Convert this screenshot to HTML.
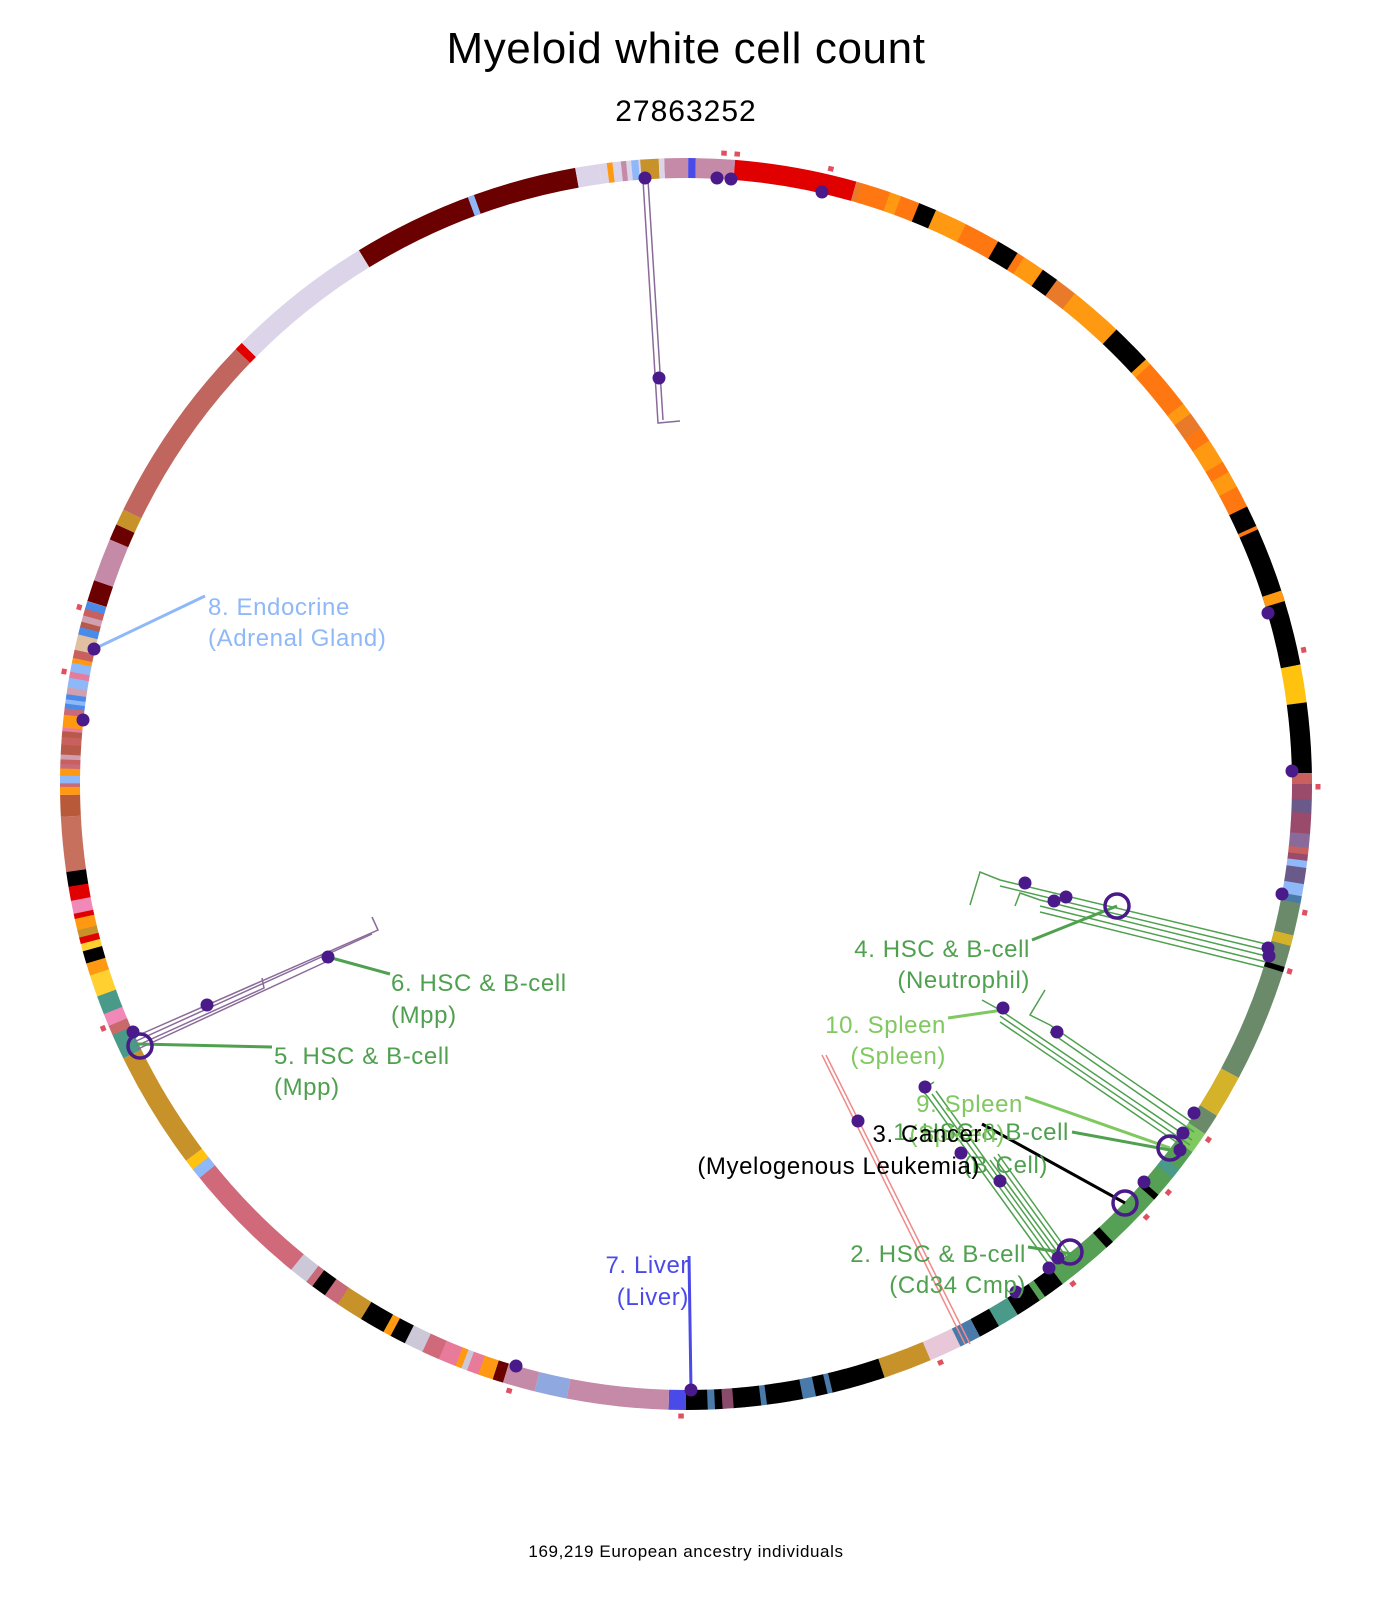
<!DOCTYPE html>
<html><head><meta charset="utf-8"><style>
html,body{margin:0;padding:0;background:#fff;width:1400px;height:1600px;overflow:hidden}
svg{display:block}
text{font-family:"Liberation Sans",sans-serif}
</style></head><body>
<svg id="s" width="1400" height="1600" viewBox="0 0 1400 1600" xmlns="http://www.w3.org/2000/svg">
<text x="686" y="63" font-size="44" letter-spacing="0.6" text-anchor="middle">Myeloid white cell count</text>
<text x="686" y="121" font-size="30" letter-spacing="1" text-anchor="middle">27863252</text>
<text x="686" y="1557" font-size="17" letter-spacing="0.6" text-anchor="middle">169,219 European ancestry individuals</text>
<g id="ring"></g>
<g id="lines" fill="none">
<polyline points="643,180 658,423 680,421" stroke="#8a6a9a" stroke-width="1.5"/>
<polyline points="648,180 663,420" stroke="#8a6a9a" stroke-width="1.5"/>
<polyline points="132,1038 378,930 372,917" stroke="#8a6a9a" stroke-width="1.5"/>
<polyline points="134,1042 372,934" stroke="#8a6a9a" stroke-width="1.5"/>
<polyline points="136,1046 264,988 262,978" stroke="#8a6a9a" stroke-width="1.5"/>
<polyline points="138,1049 330,960" stroke="#8a6a9a" stroke-width="1.5"/>
<polyline points="1266,944 1000,880 980,872 970,905" stroke="#4fa04f" stroke-width="1.5"/>
<polyline points="1266,950 1000,886" stroke="#4fa04f" stroke-width="1.5"/>
<polyline points="1266,956 1040,900 1020,893 1015,906" stroke="#4fa04f" stroke-width="1.5"/>
<polyline points="1266,962 1040,906" stroke="#4fa04f" stroke-width="1.5"/>
<polyline points="1266,968 1040,912" stroke="#4fa04f" stroke-width="1.5"/>
<polyline points="1192,1140 1000,1010 982,1000" stroke="#4fa04f" stroke-width="1.5"/>
<polyline points="1190,1145 1000,1016" stroke="#4fa04f" stroke-width="1.5"/>
<polyline points="1188,1150 1000,1022" stroke="#4fa04f" stroke-width="1.5"/>
<polyline points="1196,1125 1050,1025 1030,1015 1045,990" stroke="#4fa04f" stroke-width="1.5"/>
<polyline points="1194,1132 1050,1032" stroke="#4fa04f" stroke-width="1.5"/>
<polyline points="1053,1270 928,1097 922,1090 934,1082" stroke="#4fa04f" stroke-width="1.5"/>
<polyline points="1058,1268 932,1094" stroke="#4fa04f" stroke-width="1.5"/>
<polyline points="1062,1266 936,1091" stroke="#4fa04f" stroke-width="1.5"/>
<polyline points="1066,1264 990,1160" stroke="#4fa04f" stroke-width="1.5"/>
<polyline points="1070,1262 994,1157" stroke="#4fa04f" stroke-width="1.5"/>
<polyline points="1074,1260 998,1154" stroke="#4fa04f" stroke-width="1.5"/>
<polyline points="822,1055 965,1344" stroke="#f08a8a" stroke-width="1.5"/>
<polyline points="826,1055 970,1344" stroke="#f08a8a" stroke-width="1.5"/>
<line x1="689" y1="1256" x2="691" y2="1390" stroke="#4a4ae8" stroke-width="3"/>
<line x1="94" y1="649" x2="205" y2="596" stroke="#8fb8f8" stroke-width="3"/>
<line x1="1032" y1="940" x2="1117" y2="906" stroke="#4fa04f" stroke-width="3"/>
<line x1="948" y1="1018" x2="1003" y2="1010" stroke="#80c860" stroke-width="3"/>
<line x1="1025" y1="1097" x2="1170" y2="1148" stroke="#80c860" stroke-width="3"/>
<line x1="1072" y1="1132" x2="1170" y2="1150" stroke="#4fa04f" stroke-width="3"/>
<line x1="982" y1="1124" x2="1125" y2="1203" stroke="#000" stroke-width="3"/>
<line x1="1028" y1="1247" x2="1072" y2="1254" stroke="#4fa04f" stroke-width="3"/>
<line x1="390" y1="974" x2="328" y2="957" stroke="#4fa04f" stroke-width="3"/>
<line x1="272" y1="1047" x2="138" y2="1044" stroke="#4fa04f" stroke-width="3"/>
</g>
<g id="dots" fill="#4a1a8a"></g>
<g fill="none" stroke="#4a1a8a" stroke-width="3.5">
<circle cx="1117" cy="906" r="12"/><circle cx="1170" cy="1148" r="12"/><circle cx="1125" cy="1203" r="12"/><circle cx="1070" cy="1252" r="12"/><circle cx="140" cy="1046" r="12"/>
</g>
<g font-size="24" letter-spacing="0.6">
<text x="1030" y="957" text-anchor="end" fill="#4fa04f">4. HSC &amp; B-cell</text>
<text x="1030" y="988" text-anchor="end" fill="#4fa04f">(Neutrophil)</text>
<text x="946" y="1033" text-anchor="end" fill="#80c860">10. Spleen</text>
<text x="946" y="1064" text-anchor="end" fill="#80c860">(Spleen)</text>
<text x="1069" y="1140" text-anchor="end" fill="#4fa04f">1. HSC &amp; B-cell</text>
<text x="1048" y="1173" text-anchor="end" fill="#4fa04f">(B Cell)</text>
<text x="1023" y="1112" text-anchor="end" fill="#80c860">9. Spleen</text>
<text x="1005" y="1142" text-anchor="end" fill="#80c860">(Spleen)</text>
<text x="982" y="1142" text-anchor="end" fill="#000">3. Cancer</text>
<text x="980" y="1174" text-anchor="end" fill="#000">(Myelogenous Leukemia)</text>
<text x="1026" y="1262" text-anchor="end" fill="#4fa04f">2. HSC &amp; B-cell</text>
<text x="1026" y="1293" text-anchor="end" fill="#4fa04f">(Cd34 Cmp)</text>
<text x="689" y="1273" text-anchor="end" fill="#4a4ae8">7. Liver</text>
<text x="689" y="1305" text-anchor="end" fill="#4a4ae8">(Liver)</text>
<text x="208" y="615" fill="#8fb8f8">8. Endocrine</text>
<text x="208" y="646" fill="#8fb8f8">(Adrenal Gland)</text>
<text x="391" y="991" fill="#4fa04f">6. HSC &amp; B-cell</text>
<text x="391" y="1023" fill="#4fa04f">(Mpp)</text>
<text x="274" y="1064" fill="#4fa04f">5. HSC &amp; B-cell</text>
<text x="274" y="1095" fill="#4fa04f">(Mpp)</text>
</g>
</svg>
<script>
(function(){
var NS="http://www.w3.org/2000/svg",cx=686,cy=784,R=616,W=20;
var ring=document.getElementById('ring');
function pt(a,r){var t=a*Math.PI/180;return [cx+r*Math.sin(t),cy-r*Math.cos(t)];}
function arc(a0,a1,col,r,w){r=r||R;w=w||W;var p=pt(a0,r),q=pt(a1,r);var e=document.createElementNS(NS,'path');
e.setAttribute('d','M'+p[0].toFixed(2)+' '+p[1].toFixed(2)+' A'+r+' '+r+' 0 '+((a1-a0)>180?1:0)+' 1 '+q[0].toFixed(2)+' '+q[1].toFixed(2));
e.setAttribute('stroke',col);e.setAttribute('stroke-width',w);e.setAttribute('fill','none');ring.appendChild(e);}
var seed=7;function rnd(){seed=(seed*16807)%2147483647;return seed/2147483647;}
function mix(a0,a1,pal,minw,maxw){var a=a0;while(a<a1){var w=minw+rnd()*(maxw-minw);var b=Math.min(a1,a+w);arc(a,b+0.05,pal[Math.floor(rnd()*pal.length)]);a=b;}}
[[-2,0.2,'#c48aa8'],[0.2,0.9,'#4a4ae8'],[0.9,4.5,'#c48aa8'],[4.5,15.8,'#e00000']].forEach(function(s){arc(s[0],s[1],s[2]);});
mix(15.8,66,['#ff7711','#ff7711','#ff9911','#ff9911','#ff7711','#000','#ff9911','#000','#e87a2a'],0.5,2.2);
arc(66,79,'#000');arc(72,73,'#ff9911');arc(79,82.5,'#ffc20e');arc(82.5,89,'#000');
mix(89,101,['#8fb8f8','#6a5a8a','#9a4a6a','#4a7aaa','#c86060','#8a6a9a'],0.5,1.5);
arc(101,118,'#6a8a6a');arc(104,105,'#d4b22a');arc(107,107.5,'#000');
arc(118,122,'#d4b22a');arc(122,124,'#6a8a6a');arc(124,126,'#80c860');
arc(126,143,'#55a055');arc(131,131.6,'#000');arc(137,137.8,'#000');arc(128,129,'#4a9a8a');
arc(143,148,'#000');arc(145,145.6,'#55a055');arc(148,150,'#4a9a8a');arc(150,152,'#000');
arc(152,154,'#4a7aaa');arc(154,157,'#e8c8d8');arc(157,161.5,'#c8922a');
mix(161.5,178,['#4a7aaa','#000','#6a5a8a','#4a7aaa','#8a4a6a','#c8922a','#000'],0.4,1.5);
arc(178,180,'#000');arc(180,181.6,'#4a4ae8');
arc(181.6,191,'#c48aa8');arc(191,194,'#8fa8e0');arc(194,197,'#c48aa8');arc(197,198,'#6b0000');
mix(198,220,['#e87a9a','#8fb8f8','#c86a7a','#000','#c8922a','#ff9911','#d06a7a','#ccc8d8'],0.4,1.8);
arc(220,232,'#d06a7a');arc(231,232,'#8fb8f8');arc(232,233,'#ffc20e');arc(233,244,'#c8922a');
mix(244,262,['#000','#4a9a8a','#c8922a','#ff9911','#ffd030','#c86a6a','#e00000','#d06a7a','#f088b8'],0.4,1.4);
arc(262,267,'#c8705e');arc(267,269,'#b85a3a');
mix(269,287,['#8fb8f8','#c86a7a','#e87a9a','#b85a4a','#d0a0b0','#4a8ae8','#c86060','#e0c0a0','#ff9911'],0.3,0.9);
arc(287,289,'#6b0000');arc(289,293,'#c48aa8');arc(293,294.5,'#6b0000');arc(294.5,296,'#c8922a');
arc(296,314,'#c0665e');arc(314,314.8,'#e00000');arc(314.8,328.5,'#dcd4e8');
arc(328.5,349.8,'#6b0000');arc(339.6,340.2,'#8fb8f8');arc(349.8,352,'#dcd4e8');
mix(352,355.8,['#c48aa8','#ff9911','#8fb8f8','#dcd4e8'],0.3,0.8);arc(355.8,357.5,'#c8922a');arc(357.5,358,'#dcd4e8');
[4.4,3.2,13,77.5,90,101.5,107,124,130,133,142,156,180.2,196,247,286,280].forEach(function(t){arc(t,t+0.5,'#e05060',632,5);});
var d=[[645,178],[717,178],[731,179],[822,192],[659,378],[1268,613],[1292,771],[1282,894],[1268,948],[1269,956],[1025,883],[1054,901],[1066,897],[1003,1008],[1057,1032],[1194,1113],[1183,1133],[1180,1150],[1144,1182],[1000,1181],[925,1087],[858,1121],[961,1153],[1049,1268],[1058,1258],[1016,1292],[691,1390],[516,1366],[328,957],[207,1005],[133,1032],[94,649],[83,720]];
var g=document.getElementById('dots');d.forEach(function(p){var c=document.createElementNS(NS,'circle');c.setAttribute('cx',p[0]);c.setAttribute('cy',p[1]);c.setAttribute('r',6.5);g.appendChild(c);});
})();
</script>
</body></html>
